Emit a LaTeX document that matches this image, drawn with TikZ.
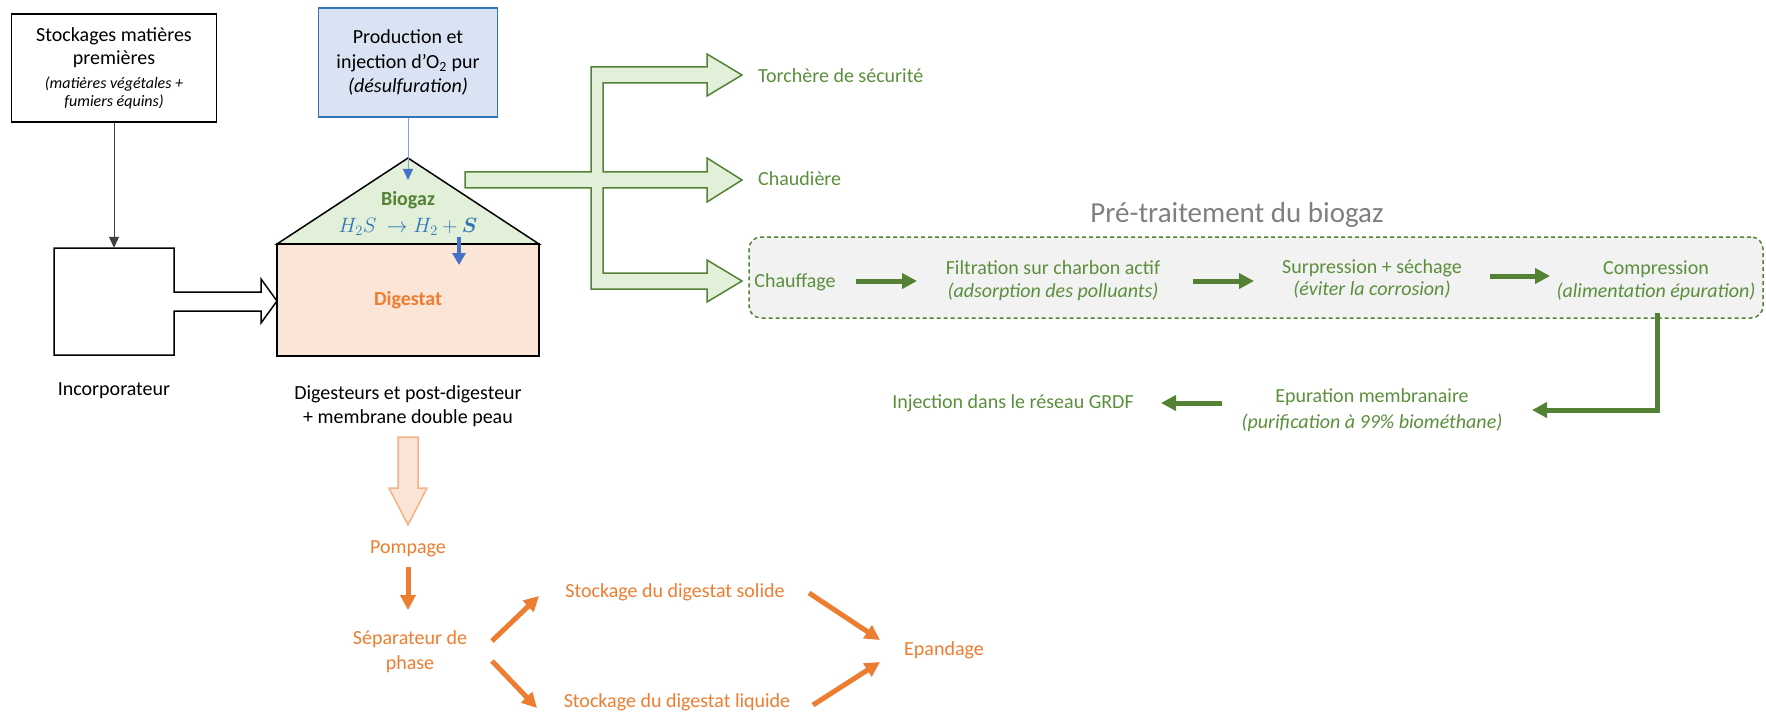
\documentclass[tikz,border=0pt]{standalone}
\usepackage{fontspec}
\setmainfont{Carlito}
\usepackage{amsmath}
\usetikzlibrary{arrows.meta}
\definecolor{gr}{HTML}{548235}
\definecolor{grtxt}{HTML}{5A8F3C}
\definecolor{grfill}{HTML}{E2F0D9}
\definecolor{orfill}{HTML}{FBE5D6}
\definecolor{ora}{HTML}{ED7D31}
\definecolor{orline}{HTML}{F4B183}
\definecolor{blfill}{HTML}{DAE3F3}
\definecolor{blline}{HTML}{2E75B6}
\definecolor{blarrow}{HTML}{4472C4}
\definecolor{grayt}{HTML}{7F7F7F}
\definecolor{boxgray}{HTML}{F2F2F2}
\begin{document}
\begin{tikzpicture}[x=1pt,y=-1pt,
  every node/.style={inner sep=0pt, font=\fontsize{20}{23}\selectfont},
  txt/.style={align=center},
  gtxt/.style={align=center, text=grtxt},
  otxt/.style={align=center, text=ora},
  garrow/.style={draw=gr, line width=5pt, -{Triangle[length=15pt,width=15pt]}},
  oarrow/.style={draw=ora, line width=5pt, -{Triangle[length=15pt,width=15pt]}},
  outline/.style={line width=1.5pt, line join=miter}
]
\useasboundingbox (0,0) rectangle (1766,714);

% ---------- left part ----------
\node[draw, outline, minimum width=205pt, minimum height=108pt, align=center] (stock) at (114,68)
  {Stockages matières\\premières\\[1pt]{\fontsize{16}{19}\selectfont\itshape (matières végétales +}\\[-5pt]{\fontsize{16}{19}\selectfont\itshape fumiers équins)}};

\draw[outline, fill=white] (54,248) -- (174,248) -- (174,292) -- (261,292) -- (261,279) -- (277,301)
  -- (261,323) -- (261,311) -- (174,311) -- (174,355) -- (54,355) -- cycle;
\node[minimum width=120pt, minimum height=107pt] (incorp) at (114,301.5) {};
\draw[draw=black!75, line width=1pt, -{Triangle[length=11pt,width=10pt]}] (stock.south) -- (incorp.north);
\node (incorplbl) at (114,391) {Incorporateur};

% ---------- digester ----------
\draw[outline, fill=grfill] (277,244) -- (408,158) -- (539,244) -- cycle;
\node[draw, outline, fill=orfill, minimum width=262pt, minimum height=112pt,
  font=\fontsize{20}{23}\selectfont\bfseries, text=ora] (dig) at (408,300) {Digestat};
\node[font=\fontsize{20}{23}\selectfont\bfseries, text=gr] (biogaz) at (408,200) {Biogaz};
\node[text=blline] (h2s) at (408,227) {$H_2S\ \rightarrow H_2+\boldsymbol{S}$};
\node[align=center, font=\fontsize{20}{24}\selectfont] (diglbl) at (408,406) {Digesteurs et post-digesteur\\+ membrane double peau};

\node[draw=blline, fill=blfill, outline, minimum width=179pt, minimum height=109pt, align=center,
  font=\fontsize{20}{24.5}\selectfont] (prod) at (408,62.5)
  {Production et\\injection d’O\textsubscript{2} pur\\\textit{(désulfuration)}};
\coordinate (o2tip) at (408,180);
\draw[draw=blarrow!65, line width=1pt, -{Triangle[length=11pt,width=10pt,color=blarrow]}] (prod.south) -- (o2tip);
\draw[draw=blarrow, line width=4.5pt, -{Triangle[length=12pt,width=13pt]}]
  ([shift={(51,10)}]h2s.center) -- ([shift={(51,38)}]h2s.center);

% ---------- green block arrows ----------
\draw[draw=gr, fill=grfill, outline] (465,172) -- (591,172) -- (591,67) -- (707,67) -- (707,54) -- (742,75)
  -- (707,96) -- (707,83) -- (603,83) -- (603,172) -- (707,172) -- (707,158) -- (742,180) -- (707,202)
  -- (707,188) -- (603,188) -- (603,273) -- (707,273) -- (707,260) -- (742,281) -- (707,302) -- (707,289)
  -- (591,289) -- (591,188) -- (465,188) -- cycle;
\node[gtxt, anchor=west] (torch) at (758,76) {Torchère de sécurité};
\node[gtxt, anchor=west] (chaud) at (758,179) {Chaudière};

% ---------- pre-treatment ----------
\node[draw=gr, dash pattern=on 4pt off 3pt, line width=1.5pt, fill=boxgray, rounded corners=12pt,
  minimum width=1014pt, minimum height=81pt] (pre) at (1256,277.5) {};
\node[font=\fontsize{29}{34}\selectfont, text=grayt] (pretitle) at (1237,215) {Pré-traitement du biogaz};

\node[gtxt] (chauf) at (795,282) {Chauffage};
\node[gtxt] (filt) at (1053,281) {Filtration sur charbon actif\\\textit{(adsorption des polluants)}};
\node[gtxt] (surp) at (1372,279) {Surpression + séchage\\[-1pt]\textit{(éviter la corrosion)}};
\node[gtxt] (comp) at (1656,281) {Compression\\\textit{(alimentation épuration)}};
\node[gtxt] (epur) at (1372,410) {Epuration membranaire\\[3pt]\textit{(purification à 99\% biométhane)}};
\node[gtxt] (inject) at (1013,403) {Injection dans le réseau GRDF};

\draw[garrow] ([shift={(61,-1)}]chauf.center) -- ([shift={(-136,0)}]filt.center);
\draw[garrow] ([shift={(140,0)}]filt.center) -- ([shift={(-118,2)}]surp.center);
\draw[garrow] ([shift={(118,-3)}]surp.center) -- ([shift={(-106,-5)}]comp.center);
\draw[garrow, line join=miter] ([shift={(1,32)}]comp.center) |- ([shift={(160,0)}]epur.center);
\draw[garrow] ([shift={(-150,-7)}]epur.center) -- ([shift={(148,0)}]inject.center);

% ---------- digestate path ----------
\draw[draw=orline, fill=orfill, outline] (398,437) -- (418,437) -- (418,488) -- (427,488) -- (408,525)
  -- (389,488) -- (398,488) -- cycle;
\node[otxt] (pomp) at (408,549) {Pompage};
\node[otxt, font=\fontsize{20}{25}\selectfont] (sep) at (410,652) {Séparateur de\\phase};
\node[otxt] (solide) at (675,592) {Stockage du digestat solide};
\node[otxt] (liquide) at (677,702) {Stockage du digestat liquide};
\node[otxt] (epand) at (944,650) {Epandage};

\draw[oarrow] ([shift={(0,18)}]pomp.center) -- ([shift={(-2,-42)}]sep.center);
\draw[oarrow] ([shift={(82,-11)}]sep.center) -- ([shift={(-136,4)}]solide.center);
\draw[oarrow] ([shift={(82,9)}]sep.center) -- ([shift={(-140,6)}]liquide.center);
\draw[oarrow] ([shift={(134,1)}]solide.center) -- ([shift={(-64,-10)}]epand.center);
\draw[oarrow] ([shift={(136,3)}]liquide.center) -- ([shift={(-64,12)}]epand.center);
\end{tikzpicture}
\end{document}
